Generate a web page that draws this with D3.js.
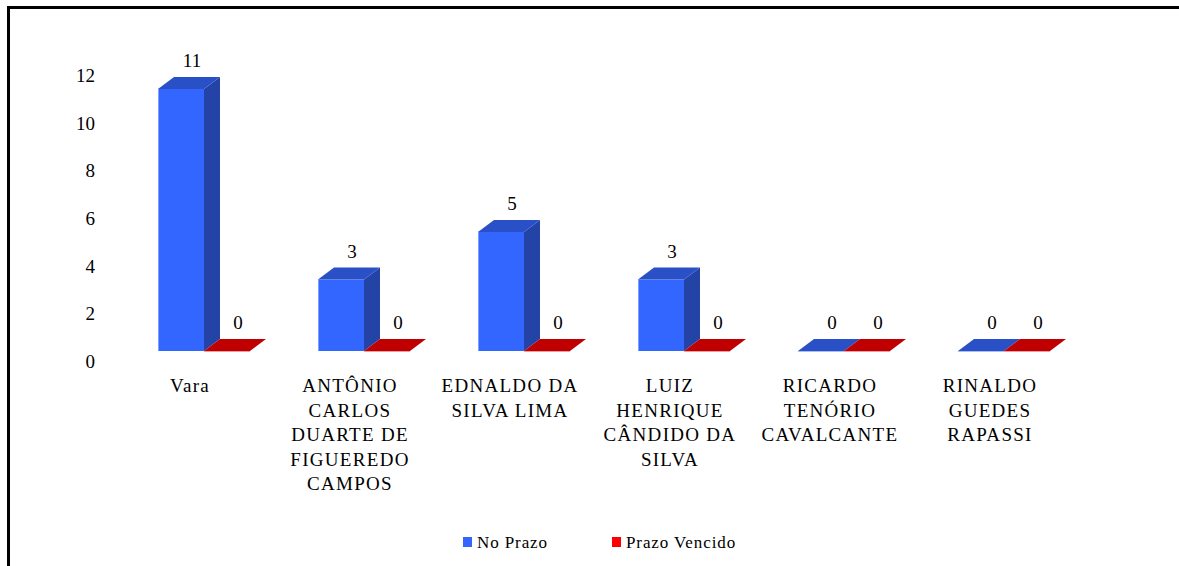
<!DOCTYPE html>
<html>
<head>
  <meta charset="utf-8">
  <title>Prazo por magistrado</title>
  <script src="https://d3js.org/d3.v7.min.js"></script>
  <style>
    svg text { font-family: "Liberation Serif", Tinos, FreeSerif, "Times New Roman", serif; }
  </style>
</head>
<body style="margin:0; background:#fff">
<script>
  // dados
  var categories = ["Vara", "ANTÔNIO CARLOS DUARTE DE FIGUEREDO CAMPOS", "EDNALDO DA SILVA LIMA",
                    "LUIZ HENRIQUE CÂNDIDO DA SILVA", "RICARDO TENÓRIO CAVALCANTE", "RINALDO GUEDES RAPASSI"];
  var series = ["No Prazo", "Prazo Vencido"];
  var noPrazo = [11, 3, 5, 3, 0, 0];
  var prazoVencido = [0, 0, 0, 0, 0, 0];
  var yTicks = [0, 2, 4, 6, 8, 10, 12];

  var width = 1179, height = 566;
  var depthX = 16, depthY = 12;
  var serifFam = "'Liberation Serif', Tinos, FreeSerif, serif";

  var colors = {
    "No Prazo": { front: "#3366ff", top: "#2a50c8", side: "#2343a6", legend: "#3366ff" },
    "Prazo Vencido": { front: "#cc0000", top: "#c00000", side: "#990000", legend: "#ff0000" }
  };

  var svg = d3.select("body").append("svg")
    .attr("width", width).attr("height", height);

  // moldura (só topo e esquerda visíveis)
  svg.append("path")
    .attr("d", "M8.5," + height + "V7.5H" + width)
    .attr("fill", "none")
    .attr("stroke", "#000")
    .attr("stroke-width", 3);

  var x0 = d3.scaleBand().domain(categories).range([124, 1084]).paddingInner(0.425).paddingOuter(0.2125);
  var x1 = d3.scaleBand().domain(series).range([0, x0.bandwidth()]);
  var y = d3.scaleLinear().domain([0, 12]).range([351, 351 - 23.82 * 12]);

  // eixo Y: só os rótulos
  svg.selectAll("text.ytick")
    .data(yTicks)
    .join("text")
    .attr("class", "ytick")
    .attr("x", 95)
    .attr("y", function(d) { return y(d) + 17; })
    .attr("text-anchor", "end")
    .style("font-family", serifFam)
    .style("font-size", "19px")
    .text(function(d) { return d; });

  var rows = [];
  categories.forEach(function(c, i) {
    rows.push({ cat: c, s: "No Prazo", v: noPrazo[i] });
    rows.push({ cat: c, s: "Prazo Vencido", v: prazoVencido[i] });
  });

  var bars = svg.append("g").selectAll("g")
    .data(rows)
    .join("g");

  bars.each(function(d) {
    var g = d3.select(this);
    var xl = x0(d.cat) + x1(d.s), xr = xl + x1.bandwidth();
    var yt = y(d.v), yb = y(0);
    var c = colors[d.s];
    if (d.v > 0) {
      // frente
      g.append("rect").attr("x", xl).attr("y", yt).attr("width", xr - xl).attr("height", yb - yt)
        .attr("fill", c.front);
      g.append("line").attr("x1", xl + 0.5).attr("x2", xl + 0.5).attr("y1", yt).attr("y2", yb)
        .attr("stroke", "#7f9fff").attr("stroke-width", 1);
      // lateral
      g.append("path")
        .attr("d", "M" + xr + "," + yt + "L" + (xr + depthX) + "," + (yt - depthY) +
          "L" + (xr + depthX) + "," + (yb - depthY) + "L" + xr + "," + yb + "Z")
        .attr("fill", c.side);
    } else {
      // aresta clara da base quando a barra é zero
      g.append("line").attr("x1", xl).attr("x2", xr).attr("y1", yb + 0.5).attr("y2", yb + 0.5)
        .attr("stroke", d.s === "No Prazo" ? "#aabff0" : "#e8a0a0").attr("stroke-width", 1);
    }
    // topo
    g.append("path")
      .attr("d", "M" + xl + "," + yt + "L" + xr + "," + yt + "L" + (xr + depthX) + "," + (yt - depthY) +
        "L" + (xl + depthX) + "," + (yt - depthY) + "Z")
      .attr("fill", c.top);
  });

  // rótulos de valor
  svg.selectAll("text.val")
    .data(rows)
    .join("text")
    .attr("class", "val")
    .attr("x", function(d) { return x0(d.cat) + x1(d.s) + x1.bandwidth() / 2 + 11; })
    .attr("y", function(d) { return y(d.v) - depthY - 10; })
    .attr("text-anchor", "middle")
    .style("font-family", serifFam)
    .style("font-size", "19px")
    .text(function(d) { return d.v; });

  // quebra de linha por número de caracteres
  function wrapWords(str, maxChars) {
    var words = str.split(" "), lines = [], cur = "";
    words.forEach(function(w) {
      var t = cur ? cur + " " + w : w;
      if (cur && t.length > maxChars) { lines.push(cur); cur = w; } else { cur = t; }
    });
    if (cur) lines.push(cur);
    return lines;
  }

  var catG = svg.selectAll("text.cat")
    .data(categories)
    .join("text")
    .attr("class", "cat")
    .attr("x", function(d) { return x0(d) + x0.bandwidth() / 2 - 14; })
    .attr("y", 392)
    .attr("text-anchor", "middle")
    .style("font-family", serifFam)
    .style("font-size", "19px")
    .style("letter-spacing", "1.3px");

  catG.each(function(d) {
    var t = d3.select(this), cx = t.attr("x");
    wrapWords(d, 11).forEach(function(line, k) {
      t.append("tspan").attr("x", cx).attr("dy", k === 0 ? 0 : 24.5).text(line);
    });
  });

  // legenda
  var legendX = [463, 612];
  svg.selectAll("rect.leg")
    .data(series)
    .join("rect")
    .attr("class", "leg")
    .attr("x", function(d, i) { return legendX[i]; })
    .attr("y", 537)
    .attr("width", 9).attr("height", 10)
    .attr("fill", function(d) { return colors[d].legend; });
  svg.selectAll("text.leg")
    .data(series)
    .join("text")
    .attr("class", "leg")
    .attr("x", function(d, i) { return legendX[i] + 14; })
    .attr("y", 548)
    .style("font-family", serifFam)
    .style("font-size", "17px")
    .style("letter-spacing", "0.9px")
    .text(function(d) { return d; });
</script>
</body>
</html>
